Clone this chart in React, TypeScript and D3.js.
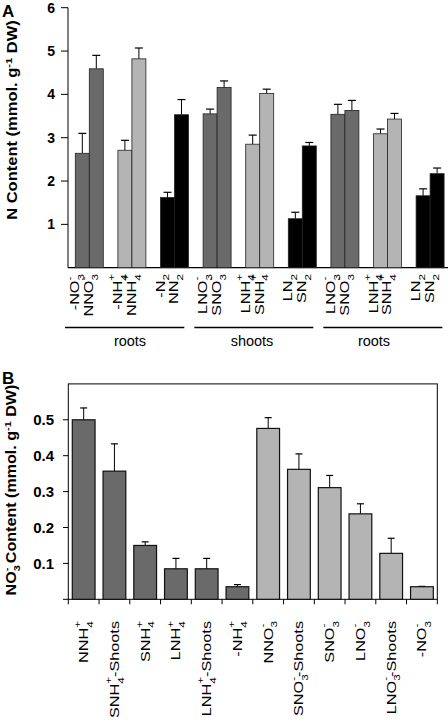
import React from "react";
import * as d3 from "d3";

// ---------- Panel A data ----------
type Chem = { base: string; sub?: string; sup?: string; tail?: string };
const groupsA = ["g1", "g2", "g3", "g4", "g5", "g6", "g7", "g8", "g9"];
const labelsA1: Chem[] = [
  { base: "-NO", sub: "3", sup: "-" },
  { base: "-NH", sub: "4", sup: "+" },
  { base: "-N", sub: "2" },
  { base: "LNO", sub: "3", sup: "-" },
  { base: "LNH", sub: "4", sup: "+" },
  { base: "LN", sub: "2" },
  { base: "LNO", sub: "3", sup: "-" },
  { base: "LNH", sub: "4", sup: "+" },
  { base: "LN", sub: "2" },
];
const labelsA2: Chem[] = [
  { base: "NNO", sub: "3", sup: "-" },
  { base: "NNH", sub: "4", sup: "+" },
  { base: "NN", sub: "2" },
  { base: "SNO", sub: "3", sup: "-" },
  { base: "SNH", sub: "4", sup: "+" },
  { base: "SN", sub: "2" },
  { base: "SNO", sub: "3", sup: "-" },
  { base: "SNH", sub: "4", sup: "+" },
  { base: "SN", sub: "2" },
];
const valuesA1 = [2.64, 2.71, 1.62, 3.55, 2.85, 1.13, 3.54, 3.09, 1.66];
const errorsA1 = [0.46, 0.23, 0.12, 0.11, 0.21, 0.15, 0.23, 0.11, 0.16];
const valuesA2 = [4.59, 4.82, 3.53, 4.16, 4.02, 2.81, 3.63, 3.43, 2.17];
const errorsA2 = [0.31, 0.25, 0.35, 0.15, 0.1, 0.08, 0.23, 0.13, 0.13];
const kindA = ["NO3", "NH4", "N2", "NO3", "NH4", "N2", "NO3", "NH4", "N2"];
const ticksA = [1, 2, 3, 4, 5, 6];
const sectionsA = ["roots", "shoots", "roots"];

// ---------- Panel B data ----------
const labelsB: Chem[] = [
  { base: "NNH", sub: "4", sup: "+" },
  { base: "SNH", sub: "4", sup: "+", tail: "-Shoots" },
  { base: "SNH", sub: "4", sup: "+" },
  { base: "LNH", sub: "4", sup: "+" },
  { base: "LNH", sub: "4", sup: "+", tail: "-Shoots" },
  { base: "-NH", sub: "4", sup: "+" },
  { base: "NNO", sub: "3", sup: "-" },
  { base: "SNO", sub: "3", sup: "-", tail: "-Shoots" },
  { base: "SNO", sub: "3", sup: "-" },
  { base: "LNO", sub: "3", sup: "-" },
  { base: "LNO", sub: "3", sup: "-", tail: "-Shoots" },
  { base: "-NO", sub: "3", sup: "-" },
];
const valuesB = [0.5, 0.357, 0.15, 0.085, 0.085, 0.035, 0.476, 0.362, 0.311, 0.238, 0.128, 0.035];
const errorsB = [0.033, 0.076, 0.01, 0.029, 0.029, 0.006, 0.03, 0.043, 0.034, 0.028, 0.042, 0.001];
const kindB = ["dark", "dark", "dark", "dark", "dark", "dark", "light", "light", "light", "light", "light", "light"];
const ticksB = [0.1, 0.2, 0.3, 0.4, 0.5];

const FONT = "'Liberation Sans', Arial, Helvetica, sans-serif";
const fillA: Record<string, string> = { NO3: "#6a6a6a", NH4: "#b4b4b4", N2: "#000000" };
const fillB: Record<string, string> = { dark: "#6a6a6a", light: "#b4b4b4" };

function ChemText({ c, fs }: { c: Chem; fs: number }) {
  const sfs = fs * 0.72;
  const subW = sfs * 0.556;
  const parts: React.ReactNode[] = [<tspan key="b">{c.base}</tspan>];
  if (c.sub) parts.push(<tspan key="s" fontSize={sfs} dy={fs * 0.38}>{c.sub}</tspan>);
  if (c.sup) parts.push(<tspan key="p" fontSize={sfs} dx={-subW} dy={-fs * 0.92}>{c.sup}</tspan>);
  if (c.tail) {
    const back = (c.sub ? fs * 0.38 : 0) - (c.sup ? fs * 0.92 : 0);
    parts.push(<tspan key="t" fontSize={fs} dy={-back}>{c.tail}</tspan>);
  }
  return <>{parts}</>;
}

export default function App() {
  // Panel A scales
  const yA = d3.scaleLinear().domain([0, 6]).range([267.7, 7.7]);
  const x0 = d3.scaleBand<string>().domain(groupsA).range([68, 451.4]).paddingInner(0.343).paddingOuter(0.1715);
  const x1 = d3.scaleBand<string>().domain(["a", "b"]).range([0, x0.bandwidth()]);
  const capA = 8;

  // Panel B scales
  const yB = d3.scaleLinear().domain([0, 0.6]).range([599.3, 383.9]);
  const xB = d3.scaleBand<number>().domain(d3.range(labelsB.length)).range([68.3, 437.3]).paddingInner(0.26).paddingOuter(0.13);
  const capB = 7;

  const barsA: { g: string; v: number; e: number; s: string; kind: string; lab: Chem }[] = [];
  groupsA.forEach((g, i) => {
    barsA.push({ g, v: valuesA1[i], e: errorsA1[i], s: "a", kind: kindA[i], lab: labelsA1[i] });
    barsA.push({ g, v: valuesA2[i], e: errorsA2[i], s: "b", kind: kindA[i], lab: labelsA2[i] });
  });

  const secLines = [
    [65, 184.3],
    [194.3, 313.3],
    [323.3, 442.3],
  ];
  const secText = [130, 252, 374];

  return (
    <svg width={448} height={727} style={{ position: "absolute", left: 0, top: 0, fontFamily: FONT }}>
      <rect width={448} height={727} fill="#fff" />
      {/* ---------- Panel A ---------- */}
      <text x={2} y={17} fontSize={17} fontWeight="bold">A</text>
      <text transform="translate(16.5,120) rotate(-90) scale(1.18,1)" textAnchor="middle" fontSize={14} fontWeight="bold">
        N Content (mmol. g<tspan fontSize={9.5} dy={-5}>-1</tspan><tspan dy={5}> DW)</tspan>
      </text>
      {ticksA.map((t) => (
        <g key={t}>
          <line x1={61} x2={68} y1={yA(t)} y2={yA(t)} stroke="#000" strokeWidth={1} />
          <text x={55} y={yA(t) + 5} textAnchor="end" fontSize={14} fontWeight="bold">{t}</text>
        </g>
      ))}
      <line x1={68} x2={68} y1={yA(6)} y2={yA(0)} stroke="#000" strokeWidth={1} />
      <line x1={68} x2={448} y1={yA(0)} y2={yA(0)} stroke="#000" strokeWidth={1.2} />
      {barsA.map((b, i) => {
        const x = (x0(b.g) as number) + (x1(b.s) as number);
        const w = x1.bandwidth();
        const cx = x + w / 2;
        return (
          <g key={i}>
            <line x1={cx} x2={cx} y1={yA(b.v)} y2={yA(b.v + b.e)} stroke="#000" strokeWidth={1} />
            <line x1={cx - capA / 2} x2={cx + capA / 2} y1={yA(b.v + b.e)} y2={yA(b.v + b.e)} stroke="#000" strokeWidth={1.2} />
            <rect x={x} y={yA(b.v)} width={w} height={yA(0) - yA(b.v)} fill={fillA[b.kind]} stroke="#222" strokeWidth={0.8} />
            <text transform={`translate(${cx - 3},274) rotate(-90) scale(1.3,1)`} textAnchor="end" fontSize={12.5}>
              <ChemText c={b.lab} fs={12.5} />
            </text>
          </g>
        );
      })}
      {secLines.map((l, i) => (
        <line key={i} x1={l[0]} x2={l[1]} y1={327.5} y2={327.5} stroke="#000" strokeWidth={1.4} />
      ))}
      {sectionsA.map((s, i) => (
        <text key={i} x={secText[i]} y={346} textAnchor="middle" fontSize={14.5}>{s}</text>
      ))}

      {/* ---------- Panel B ---------- */}
      <text x={2} y={384} fontSize={17} fontWeight="bold">B</text>
      <text transform="translate(16,490) rotate(-90) scale(1.15,1)" textAnchor="middle" fontSize={14} fontWeight="bold">
        NO<tspan fontSize={9.5} dy={4}>3</tspan><tspan fontSize={9.5} dx={-5.3} dy={-10}>-</tspan>
        <tspan dy={6}> Content (mmol. g</tspan><tspan fontSize={9.5} dy={-5}>-1</tspan><tspan dy={5}> DW)</tspan>
      </text>
      <rect x={68.3} y={yB(0.6)} width={437.3 - 68.3} height={yB(0) - yB(0.6)} fill="none" stroke="#000" strokeWidth={1} />
      <line x1={63} x2={68.3} y1={yB(0)} y2={yB(0)} stroke="#000" />
      {ticksB.map((t) => (
        <g key={t}>
          <line x1={63} x2={68.3} y1={yB(t)} y2={yB(t)} stroke="#000" strokeWidth={1} />
          <text x={54} y={yB(t) + 5.5} textAnchor="end" fontSize={15} fontWeight="bold">{d3.format(".1f")(t)}</text>
        </g>
      ))}
      {d3.range(labelsB.length + 1).map((i) => {
        const xx = 68.3 + i * xB.step();
        return <line key={i} x1={xx} x2={xx} y1={yB(0)} y2={yB(0) + 5} stroke="#000" strokeWidth={1} />;
      })}
      {labelsB.map((lab, i) => {
        const x = xB(i) as number;
        const w = xB.bandwidth();
        const cx = x + w / 2;
        const v = valuesB[i];
        const e = errorsB[i];
        return (
          <g key={i}>
            <line x1={cx} x2={cx} y1={yB(v)} y2={yB(v + e)} stroke="#000" strokeWidth={1} />
            <line x1={cx - capB / 2} x2={cx + capB / 2} y1={yB(v + e)} y2={yB(v + e)} stroke="#000" strokeWidth={1.2} />
            <rect x={x} y={yB(v)} width={w} height={yB(0) - yB(v)} fill={fillB[kindB[i]]} stroke="#111" strokeWidth={1.2} />
            <text transform={`translate(${cx + 4.5},621) rotate(-90) scale(1.3,1)`} textAnchor="end" fontSize={12.5}>
              <ChemText c={lab} fs={12.5} />
            </text>
          </g>
        );
      })}
    </svg>
  );
}
